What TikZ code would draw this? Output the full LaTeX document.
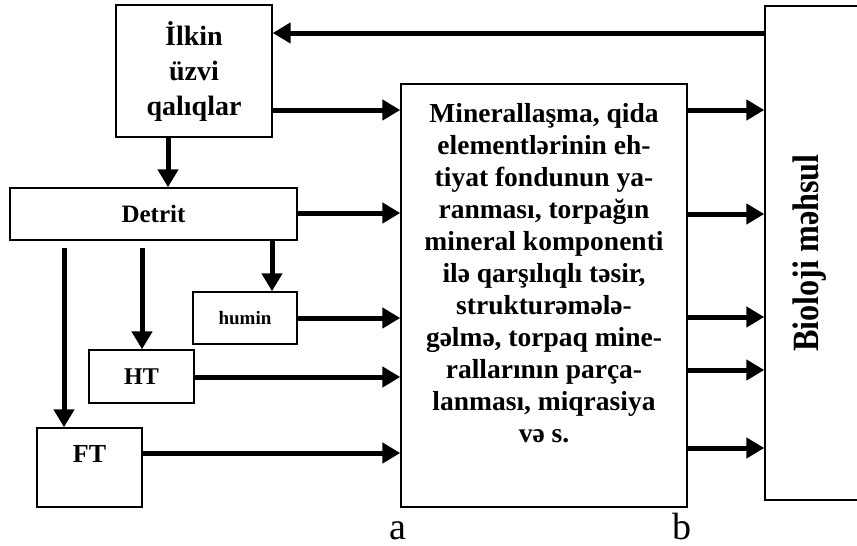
\documentclass[tikz,border=0pt]{standalone}
\usepackage{fontspec}
\setmainfont{Liberation Serif}
\usetikzlibrary{arrows.meta}

\tikzset{
  box/.style={draw, line width=1.4pt, inner sep=0pt, fill=white},
  flow/.style={line width=5pt, -{Triangle[length=18pt, width=20pt]}},
  bfont/.style={font=\bfseries\fontsize{28}{34}\selectfont},
}

\begin{document}
\begin{tikzpicture}[x=1pt, y=-1pt]
  \useasboundingbox (0,0) rectangle (857,546);

  % boxes
  \node[box, minimum width=156pt, minimum height=132pt, bfont, align=center]
    (ilkin) at (194,71) {\.Ilkin\\[1pt]üzvi\\[1pt]qalıqlar};
  \node[box, minimum width=287pt, minimum height=52pt,
        font=\bfseries\fontsize{25}{28}\selectfont] (detrit) at (153.5,214) {Detrit};
  \node[box, minimum width=104pt, minimum height=52pt,
        font=\bfseries\fontsize{19}{22}\selectfont] (humin) at (245,318) {humin};
  \node[box, minimum width=105pt, minimum height=53pt,
        font=\bfseries\fontsize{24}{27}\selectfont] (ht) at (141.5,376.5) {HT};
  \node[box, minimum width=105pt, minimum height=79pt] (ft) at (89.5,467.5) {};
  \node[font=\bfseries\fontsize{26}{29}\selectfont] (fttext) at (89.5,454) {FT};

  \node[box, minimum width=286pt, minimum height=423pt] (main) at (544,295.5) {};
  \node[anchor=north, align=center, font=\bfseries\fontsize{27.5}{32}\selectfont]
    (maintext) at (544,100) {Minerallaşma, qida\\elementlərinin eh-\\tiyat fondunun ya-\\ranması, torpağın\\mineral komponenti\\ilə qarşılıqlı təsir,\\strukturəmələ-\\gəlmə, torpaq mine-\\rallarının parça-\\lanması, miqrasiya\\və s.};

  % product box, open towards the right edge
  \node[box, minimum width=130pt, minimum height=494pt] (biobox) at (830,253) {};
  \node[rotate=90, font=\bfseries\fontsize{37}{40}\selectfont]
    (bio) at (810,253) {\scalebox{0.87}[1]{Bioloji məhsul}};

  % vertical flows
  \draw[flow] (ilkin.south -| 168,0) -- (detrit.north -| 168,0);
  \draw[flow, shorten <=7pt] (detrit.south -| 64,0) -- (ft.north -| 64,0);
  \draw[flow, shorten <=7pt] (detrit.south -| 142,0) -- (ht.north -| 142,0);
  \draw[flow] (detrit.south -| 272,0) -- (humin.north -| 272,0);

  % flows into the process box
  \draw[flow] (ilkin.east |- 0,110) -- (main.west |- 0,110);
  \draw[flow] (detrit.east |- 0,213) -- (main.west |- 0,213);
  \draw[flow] (humin.east |- 0,318) -- (main.west |- 0,318);
  \draw[flow] (ht.east |- 0,377) -- (main.west |- 0,377);
  \draw[flow] (ft.east |- 0,453) -- (main.west |- 0,453);

  % flows into the product
  \foreach \yy in {110,214,317,370,448}
    \draw[flow] (main.east |- 0,\yy) -- (biobox.west |- 0,\yy);

  % feedback to the residues
  \draw[flow] (biobox.west |- 0,33) -- (ilkin.east |- 0,33);

  % section labels
  \node[anchor=base, inner sep=0pt, font=\fontsize{38}{42}\selectfont] (la) at (398,539) {a};
  \node[anchor=base, inner sep=0pt, font=\fontsize{38}{42}\selectfont] (lb) at (682,539) {b};
\end{tikzpicture}
\end{document}
